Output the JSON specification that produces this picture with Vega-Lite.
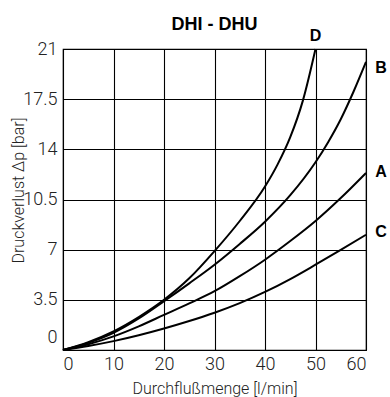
{
  "$schema": "https://vega.github.io/schema/vega-lite/v6.json",
  "autosize": "none",
  "padding": {"left": 63, "top": 49, "right": 24, "bottom": 47},
  "width": 303,
  "height": 301,
  "background": "white",
  "title": {
    "text": "DHI - DHU",
    "font": "Liberation Sans",
    "fontSize": 18,
    "fontWeight": "bold",
    "color": "black",
    "anchor": "middle",
    "frame": "group",
    "baseline": "alphabetic",
    "offset": 3,
    "dy": 23
  },
  "config": {
    "view": {"stroke": "black", "strokeWidth": 1.2},
    "axis": {
      "grid": true,
      "gridColor": "black",
      "gridWidth": 1.1,
      "gridOpacity": 1,
      "domain": false,
      "ticks": false,
      "labelFont": "Roboto",
      "labelFontWeight": 300,
      "labelFontSize": 18,
      "labelColor": "#222",
      "titleFont": "Roboto",
      "titleFontWeight": 300,
      "titleFontSize": 16,
      "titleColor": "#222"
    }
  },
  "layer": [
    {
      "data": {
        "values": [
          {"series": "D", "q": 0, "dp": 0},
          {"series": "D", "q": 5, "dp": 0.55},
          {"series": "D", "q": 10, "dp": 1.3},
          {"series": "D", "q": 15, "dp": 2.3},
          {"series": "D", "q": 20, "dp": 3.5},
          {"series": "D", "q": 25, "dp": 5.0},
          {"series": "D", "q": 30, "dp": 6.9},
          {"series": "D", "q": 35, "dp": 9.0},
          {"series": "D", "q": 40, "dp": 11.4},
          {"series": "D", "q": 42.5, "dp": 12.95},
          {"series": "D", "q": 45, "dp": 14.85},
          {"series": "D", "q": 47.5, "dp": 17.4},
          {"series": "D", "q": 50, "dp": 21},
          {"series": "B", "q": 0, "dp": 0},
          {"series": "B", "q": 5, "dp": 0.5},
          {"series": "B", "q": 10, "dp": 1.2},
          {"series": "B", "q": 15, "dp": 2.2},
          {"series": "B", "q": 20, "dp": 3.4},
          {"series": "B", "q": 25, "dp": 4.65},
          {"series": "B", "q": 30, "dp": 5.95},
          {"series": "B", "q": 35, "dp": 7.4},
          {"series": "B", "q": 40, "dp": 8.95},
          {"series": "B", "q": 45, "dp": 10.8},
          {"series": "B", "q": 50, "dp": 13.1},
          {"series": "B", "q": 52.5, "dp": 14.5},
          {"series": "B", "q": 55, "dp": 16.1},
          {"series": "B", "q": 57.5, "dp": 18.0},
          {"series": "B", "q": 60, "dp": 20.1},
          {"series": "A", "q": 0, "dp": 0},
          {"series": "A", "q": 5, "dp": 0.4},
          {"series": "A", "q": 10, "dp": 0.95},
          {"series": "A", "q": 15, "dp": 1.65},
          {"series": "A", "q": 20, "dp": 2.45},
          {"series": "A", "q": 25, "dp": 3.25},
          {"series": "A", "q": 30, "dp": 4.1},
          {"series": "A", "q": 35, "dp": 5.15},
          {"series": "A", "q": 40, "dp": 6.3},
          {"series": "A", "q": 45, "dp": 7.6},
          {"series": "A", "q": 50, "dp": 9.0},
          {"series": "A", "q": 55, "dp": 10.6},
          {"series": "A", "q": 60, "dp": 12.35},
          {"series": "C", "q": 0, "dp": 0},
          {"series": "C", "q": 5, "dp": 0.28},
          {"series": "C", "q": 10, "dp": 0.62},
          {"series": "C", "q": 15, "dp": 1.03},
          {"series": "C", "q": 20, "dp": 1.5},
          {"series": "C", "q": 25, "dp": 2.02},
          {"series": "C", "q": 30, "dp": 2.6},
          {"series": "C", "q": 35, "dp": 3.27},
          {"series": "C", "q": 40, "dp": 4.05},
          {"series": "C", "q": 45, "dp": 4.95},
          {"series": "C", "q": 50, "dp": 5.95},
          {"series": "C", "q": 55, "dp": 6.98},
          {"series": "C", "q": 60, "dp": 8.04}
        ]
      },
      "mark": {"type": "line", "color": "black", "strokeWidth": 2, "interpolate": "monotone"},
      "encoding": {
        "x": {
          "field": "q",
          "type": "quantitative",
          "scale": {"domain": [0, 60], "nice": false},
          "axis": {
            "values": [0, 10, 20, 30, 40, 50, 60],
            "labelPadding": 5,
            "title": "Durchflußmenge [l/min]",
            "titlePadding": 7
          }
        },
        "y": {
          "field": "dp",
          "type": "quantitative",
          "scale": {"domain": [0, 21], "nice": false},
          "axis": {
            "values": [0, 3.5, 7, 10.5, 14, 17.5, 21],
            "format": ".1~f",
            "labelPadding": 6,
            "labelOffset": {"condition": {"test": "datum.value === 0", "value": -13}, "value": 0},
            "title": "Druckverlust Δp [bar]",
            "titleAngle": -90,
            "titleAlign": "center",
            "titleBaseline": "alphabetic",
            "titleX": -40,
            "titleY": 141
          }
        },
        "detail": {"field": "series", "type": "nominal"}
      }
    },
    {
      "data": {"values": [{"label": "D", "q": 50, "dp": 21}]},
      "mark": {"type": "text", "font": "Liberation Sans", "fontSize": 16, "fontWeight": "bold", "color": "black", "dy": -13, "align": "center", "baseline": "middle"},
      "encoding": {
        "x": {"field": "q", "type": "quantitative"},
        "y": {"field": "dp", "type": "quantitative"},
        "text": {"field": "label"}
      }
    },
    {
      "data": {"values": [
        {"label": "B", "q": 60, "dp": 19.7},
        {"label": "A", "q": 60, "dp": 12.4},
        {"label": "C", "q": 60, "dp": 8.2}
      ]},
      "mark": {"type": "text", "font": "Liberation Sans", "fontSize": 16, "fontWeight": "bold", "color": "black", "dx": 15, "align": "center", "baseline": "middle"},
      "encoding": {
        "x": {"field": "q", "type": "quantitative"},
        "y": {"field": "dp", "type": "quantitative"},
        "text": {"field": "label"}
      }
    }
  ]
}
